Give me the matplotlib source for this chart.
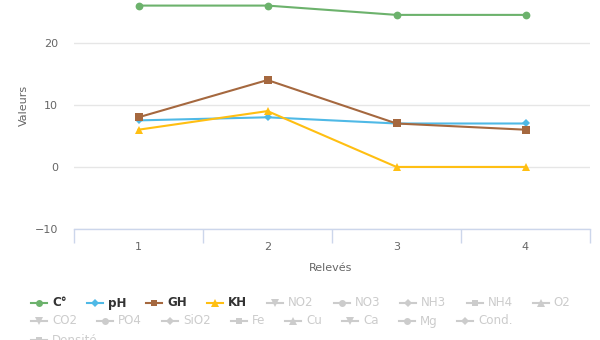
import matplotlib
matplotlib.use("Agg")
import matplotlib.pyplot as plt
from matplotlib.lines import Line2D

plt.rcParams['font.family'] = ['DejaVu Sans']

categories = ["1", "2", "3", "4"]
temp_c = [26, 26, 24.5, 24.5]
ph = [7.5, 8, 7, 7]
gh = [8, 14, 7, 6]
kh = [6, 9, 0, 0]

y_ticks = [-10, 0, 10, 20]
y_tick_labels = ["\u221210", "0", "10", "20"]

visible_series = [
    ("C°", temp_c, "#6cb26c", "o"),
    ("pH", ph, "#4fb9e6", "D"),
    ("GH", gh, "#a5683f", "s"),
    ("KH", kh, "#ffbf12", "^"),
]
hidden_names = ["NO2", "NO3", "NH3", "NH4", "O2", "CO2", "PO4", "SiO2",
                "Fe", "Cu", "Ca", "Mg", "Cond.", "Densité"]
hidden_markers = ["v", "o", "D", "s", "^", "v", "o", "D", "s", "^", "v", "o", "D", "s"]

W, H = 600, 340
fig = plt.figure(figsize=(6, 3.4), dpi=100)
left, right, bottom, top = 74, 590, 229, 0
ax = fig.add_axes([left / W, 1 - bottom / H, (right - left) / W, (bottom - top) / H])

x = list(range(len(categories)))
msz = {"o": 5.6, "D": 4.2, "s": 5.6, "^": 6, "v": 6}
lsz = {"o": 5, "D": 4, "s": 5, "^": 5.2, "v": 5.2}
for name, vals, col, mk in visible_series:
    ax.plot(x, vals, color=col, lw=1.5, marker=mk, markersize=msz[mk],
            markeredgewidth=0, clip_on=False, zorder=3)

ax.set_xlim(-0.5, len(categories) - 0.5)
ax.set_ylim(-10, 26.9)
ax.set_yticks(y_ticks)
ax.set_yticklabels(y_tick_labels)
ax.set_xticks(x)
ax.set_xticklabels(categories)
ax.set_xticks([i - 0.5 for i in range(len(categories) + 1)], minor=True)
ax.tick_params(axis='x', which='major', length=0, pad=9, labelsize=8, labelcolor="#666666")
ax.tick_params(axis='x', which='minor', length=10, color="#ccd6eb", width=1)
ax.tick_params(axis='y', length=0, pad=11.5, labelsize=8, labelcolor="#666666")
for s in ["top", "right", "left"]:
    ax.spines[s].set_visible(False)
ax.spines["bottom"].set_color("#ccd6eb")
ax.spines["bottom"].set_linewidth(1)
ax.grid(axis='y', color="#e6e6e6", lw=1)
ax.set_axisbelow(True)

fig.text(24 / W, 1 - 105 / H, "Valeurs", rotation=90, ha="center", va="center",
         fontsize=8, color="#666666")
fig.text(331 / W, 1 - 268 / H, "Relevés", ha="center", va="center",
         fontsize=8, color="#666666")

# Legend, laid out in rows
items = [(n, c, m, True) for n, _, c, m in visible_series] + \
        [(n, "#cccccc", m, False) for n, m in zip(hidden_names, hidden_markers)]
rows = [items[:9], items[9:17], items[17:]]
row_y = [303, 321, 340]
fig.canvas.draw()
renderer = fig.canvas.get_renderer()
for row, yy in zip(rows, row_y):
    xx = 31
    for name, col, mk, vis in row:
        yf = 1 - yy / H
        fig.add_artist(Line2D([xx / W, (xx + 16) / W], [yf, yf], color=col, lw=1.5,
                              transform=fig.transFigure))
        fig.add_artist(Line2D([(xx + 8) / W], [yf], color=col, marker=mk,
                              markersize=lsz[mk], markeredgewidth=0, transform=fig.transFigure))
        t = fig.text((xx + 21) / W, yf, name, ha="left", va="center", fontsize=8.6,
                     color="#333333" if vis else "#cccccc",
                     fontweight="bold" if vis else "normal")
        w = t.get_window_extent(renderer).width
        xx = xx + 21 + w + 20

fig.savefig("out.png", dpi=100)
